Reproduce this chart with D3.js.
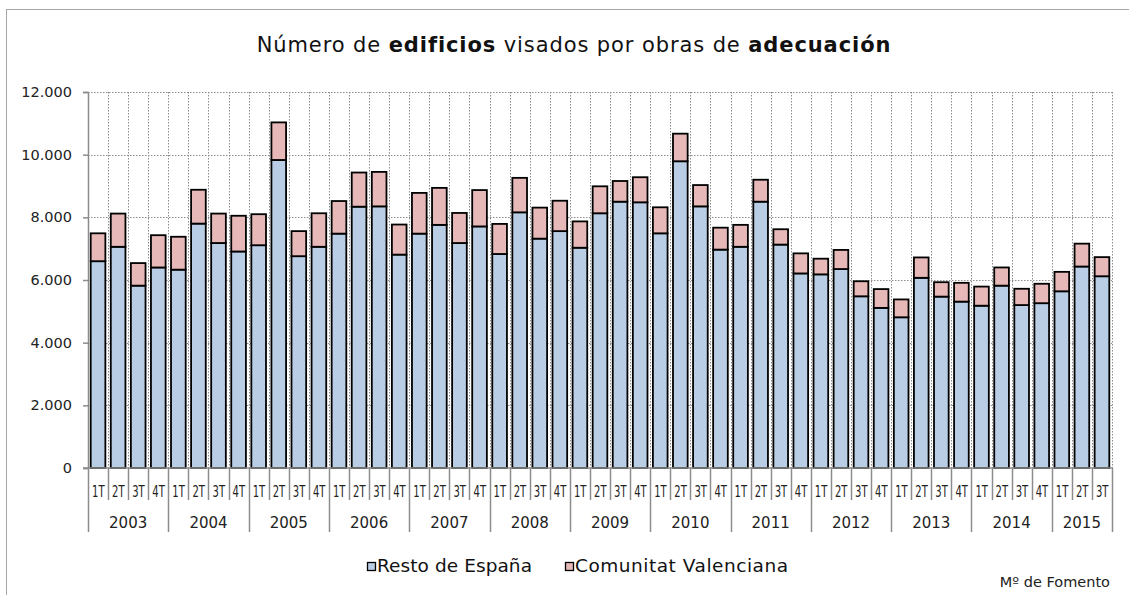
<!DOCTYPE html>
<html>
<head>
<meta charset="utf-8">
<script src="https://cdn.jsdelivr.net/npm/d3@7"></script>
<style>
  body { margin: 0; background: #fff; }
  svg { display: block; font-family: "DejaVu Sans", sans-serif; }
</style>
</head>
<body>
<svg id="chart"></svg>
<script>
// Datos
const years = ['2003', '2004', '2005', '2006', '2007', '2008', '2009', '2010', '2011', '2012', '2013', '2014', '2015'];
const quarters = ['1T', '2T', '3T', '4T'];
const resto = [
  6600, 7060, 5820, 6400,
  6330, 7800, 7180, 6910,
  7110, 9830, 6760, 7060,
  7480, 8340, 8350, 6810,
  7480, 7760, 7180, 7710,
  6830, 8160, 7320, 7560,
  7030, 8130, 8500, 8480,
  7490, 9790, 8350, 6970,
  7060, 8500, 7130, 6210,
  6180, 6350, 5480, 5110,
  4810, 6070, 5470, 5310,
  5180, 5820, 5200, 5260,
  5640, 6430, 6120
];
const valenciana = [
  890, 1060, 720, 1030,
  1050, 1080, 940, 1140,
  990, 1200, 800, 1070,
  1040, 1090, 1100, 960,
  1300, 1180, 960, 1160,
  960, 1100, 990, 970,
  840, 860, 660, 800,
  830, 880, 680, 700,
  700, 700, 490, 640,
  500, 610, 480, 600,
  570, 650, 460, 600,
  610, 580, 520, 620,
  620, 730, 610
];
const yTicks = [0, 2000, 4000, 6000, 8000, 10000, 12000];

const width = 1129;
const height = 595;
const margin = { top: 92, right: 17, bottom: 127, left: 88 };
const innerWidth = width - margin.left - margin.right;
const innerHeight = height - margin.top - margin.bottom;

const blue = '#b9cde5';
const pink = '#e6b9b8';
const axisGray = '#8c8c8c';

// categorías trimestrales
const cats = resto.map((d, i) => ({
  key: years[Math.floor(i / 4)] + '-' + quarters[i % 4],
  year: years[Math.floor(i / 4)],
  q: quarters[i % 4],
  resto: d,
  valenciana: valenciana[i]
}));

const svg = d3.select('#chart')
  .attr('width', width)
  .attr('height', height);

// marco exterior
svg.append('rect')
  .attr('x', 6.5).attr('y', 9.5)
  .attr('width', width + 20).attr('height', height + 20)
  .attr('fill', 'none')
  .attr('stroke', '#a6a6a6')
  .attr('stroke-width', 1);

// título
svg.append('text')
  .attr('x', 574)
  .attr('y', 52)
  .attr('text-anchor', 'middle')
  .style('font-size', '21px')
  .style('letter-spacing', '0.9px')
  .style('fill', '#111')
  .call(t => {
    t.append('tspan').text('Número de ');
    t.append('tspan').style('font-weight', 'bold').text('edificios');
    t.append('tspan').text(' visados por obras de ');
    t.append('tspan').style('font-weight', 'bold').text('adecuación');
  });

const g = svg.append('g')
  .attr('transform', `translate(${margin.left},${margin.top})`);

const x = d3.scaleBand()
  .domain(cats.map(d => d.key))
  .range([0, innerWidth])
  .paddingInner(0.27)
  .paddingOuter(0.135);

const y = d3.scaleLinear()
  .domain([0, 12000])
  .range([innerHeight, 0]);

const step = x.step();

// rejilla horizontal punteada
g.append('g')
  .selectAll('line')
  .data(yTicks.filter(d => d > 0))
  .enter()
  .append('line')
  .attr('x1', 0)
  .attr('x2', innerWidth)
  .attr('y1', d => Math.round(y(d)) + 0.5)
  .attr('y2', d => Math.round(y(d)) + 0.5)
  .attr('stroke', axisGray)
  .attr('stroke-width', 1)
  .attr('stroke-dasharray', '1.5,1.5');

// rejilla vertical punteada (entre categorías)
g.append('g')
  .selectAll('line')
  .data(d3.range(1, cats.length + 1))
  .enter()
  .append('line')
  .attr('x1', i => Math.round(i * step) + 0.5)
  .attr('x2', i => Math.round(i * step) + 0.5)
  .attr('y1', y(12000))
  .attr('y2', innerHeight)
  .attr('stroke', axisGray)
  .attr('stroke-width', 1)
  .attr('stroke-dasharray', '1.5,1.5');

// barras apiladas
const stack = d3.stack().keys(['resto', 'valenciana'])(cats);
const colors = { resto: blue, valenciana: pink };

g.append('g')
  .selectAll('g')
  .data(stack)
  .enter()
  .append('g')
  .attr('fill', s => colors[s.key])
  .selectAll('rect')
  .data(s => s)
  .enter()
  .append('rect')
  .attr('x', d => x(d.data.key))
  .attr('y', d => y(d[1]))
  .attr('width', x.bandwidth())
  .attr('height', d => y(d[0]) - y(d[1]))
  .attr('stroke', '#000')
  .attr('stroke-width', 1.8);

// eje Y
const yAxis = g.append('g')
  .call(d3.axisLeft(y)
    .tickValues(yTicks)
    .tickSize(5)
    .tickPadding(11)
    .tickFormat(d => d3.format(',')(d).replace(/,/g, '.'))
  );
yAxis.select('.domain').attr('stroke', axisGray).attr('stroke-width', 1.5);
yAxis.selectAll('.tick line').attr('stroke', axisGray).attr('stroke-width', 1.5);
yAxis.selectAll('text')
  .style('font-size', '14.5px')
  .style('font-family', '"DejaVu Sans", sans-serif')
  .style('fill', '#222');

// eje X: línea base
g.append('line')
  .attr('x1', -5)
  .attr('x2', innerWidth)
  .attr('y1', innerHeight)
  .attr('y2', innerHeight)
  .attr('stroke', axisGray)
  .attr('stroke-width', 1.5);

// separadores de trimestres
g.append('g')
  .selectAll('line')
  .data(d3.range(0, cats.length + 1))
  .enter()
  .append('line')
  .attr('x1', i => Math.round(i * step) + 0.5)
  .attr('x2', i => Math.round(i * step) + 0.5)
  .attr('y1', innerHeight)
  .attr('y2', innerHeight + 32)
  .attr('stroke', axisGray)
  .attr('stroke-width', 1.5);

// separadores de años
const yearBounds = years.map((yr, i) => i * 4).concat([cats.length]);
g.append('g')
  .selectAll('line')
  .data(yearBounds)
  .enter()
  .append('line')
  .attr('x1', i => Math.round(i * step) + 0.5)
  .attr('x2', i => Math.round(i * step) + 0.5)
  .attr('y1', innerHeight + 32)
  .attr('y2', innerHeight + 64)
  .attr('stroke', axisGray)
  .attr('stroke-width', 1.5);

// etiquetas trimestres (estrechas, como en el original)
g.append('g')
  .selectAll('text')
  .data(cats)
  .enter()
  .append('text')
  .attr('x', d => x(d.key) + x.bandwidth() / 2 - 6)
  .attr('y', innerHeight + 29)
  .attr('textLength', 12.5)
  .attr('lengthAdjust', 'spacingAndGlyphs')
  .style('font-size', '16.5px')
  .style('fill', '#222')
  .text(d => d.q);

// etiquetas años
g.append('g')
  .selectAll('text')
  .data(years)
  .enter()
  .append('text')
  .attr('x', (yr, i) => {
    const a = i * 4;
    const b = Math.min(a + 4, cats.length);
    return (a + b) / 2 * step;
  })
  .attr('y', innerHeight + 60)
  .attr('text-anchor', 'middle')
  .style('font-size', '15px')
  .style('fill', '#222')
  .text(d => d);

// leyenda
const legend = svg.append('g');
const legendItems = [
  { label: 'Resto de España', color: blue, x: 367, w: 155 },
  { label: 'Comunitat Valenciana', color: pink, x: 565, w: 213 }
];
legendItems.forEach(it => {
  legend.append('rect')
    .attr('x', it.x + 0.5)
    .attr('y', 562.5)
    .attr('width', 8)
    .attr('height', 8)
    .attr('fill', it.color)
    .attr('stroke', '#000')
    .attr('stroke-width', 1.3);
  legend.append('text')
    .attr('x', it.x + 10)
    .attr('y', 572)
    .attr('textLength', it.w)
    .attr('lengthAdjust', 'spacing')
    .style('font-size', '18.5px')
    .style('fill', '#111')
    .text(it.label);
});

// fuente
svg.append('text')
  .attr('x', 1110)
  .attr('y', 587)
  .attr('text-anchor', 'end')
  .style('font-size', '14.5px')
  .style('fill', '#222')
  .text('Mº  de Fomento');
</script>
</body>
</html>
